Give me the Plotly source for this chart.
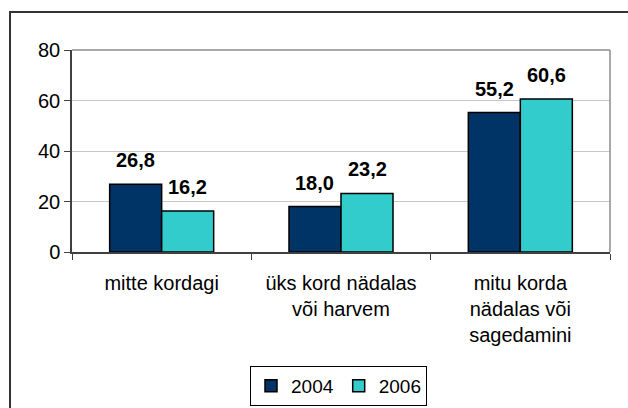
import plotly.graph_objects as go

categories = ["mitte kordagi", "üks kord nädalas<br>või harvem", "mitu korda<br>nädalas või<br>sagedamini"]
series_names = ["2004", "2006"]
values_2004 = [26.8, 18.0, 55.2]
values_2006 = [16.2, 23.2, 60.6]
y_ticks = [0, 20, 40, 60, 80]

colors = ["#003366", "#33CCCC"]
FONT = "Liberation Sans, Arial, sans-serif"

L, R, T, B = 72, 18, 50, 156
W, H = 628, 408
pw, ph = W - L - R, H - T - B
BARGAP = 0.42

fig = go.Figure()
for name, vals, col in zip(series_names, [values_2004, values_2006], colors):
    fig.add_trace(go.Bar(
        x=categories, y=vals, name=name,
        marker=dict(color=col, line=dict(color="black", width=1.5)),
    ))

annotations = []
half = pw / 3 * (1 - BARGAP) / 4
for i, vals in enumerate([values_2004, values_2006]):
    shift = -half if i == 0 else half
    for c, v in zip(categories, vals):
        annotations.append(dict(
            x=c, y=v, xref="x", yref="y", text=f"{v:.1f}".replace(".", ","),
            showarrow=False, xshift=shift, yshift=11, yanchor="bottom",
            font=dict(family=FONT, size=20, color="black", weight="bold"),
        ))

def px_x(p):
    return (p - L) / pw

def px_y(p):
    return (T + ph - p) / ph

shapes = [
    dict(type="rect", xref="paper", yref="paper", x0=px_x(10), x1=px_x(640), y0=px_y(420), y1=px_y(12),
         line=dict(color="#333333", width=2), fillcolor="rgba(0,0,0,0)", layer="below"),
    dict(type="line", xref="paper", yref="paper", x0=0, x1=1, y0=1, y1=1, line=dict(color="#8c8c8c", width=1.5)),
    dict(type="line", xref="paper", yref="paper", x0=1, x1=1, y0=0, y1=1, line=dict(color="#8c8c8c", width=1.5)),
]

fig.update_layout(
    width=W, height=H,
    margin=dict(l=L, r=R, t=T, b=B, autoexpand=False),
    paper_bgcolor="white", plot_bgcolor="white",
    barmode="group", bargap=BARGAP, bargroupgap=0,
    font=dict(family=FONT, color="black", size=20),
    showlegend=True,
    legend=dict(orientation="h", x=px_x(338.5), xanchor="center", y=px_y(406), yanchor="bottom",
                bordercolor="black", borderwidth=1, bgcolor="white",
                font=dict(family=FONT, size=19), itemwidth=30, tracegroupgap=0),
    annotations=annotations,
    shapes=shapes,
    xaxis=dict(showline=True, linecolor="#404040", linewidth=1.5, ticks="outside", ticklen=6,
               tickcolor="#404040", tickson="boundaries", showgrid=False, ticklabelstandoff=12,
               tickfont=dict(family=FONT, size=20), fixedrange=True),
    yaxis=dict(range=[0, 80], tickvals=y_ticks, showline=True, linecolor="#404040", linewidth=1.5,
               ticks="outside", ticklen=6, tickcolor="#404040", showgrid=True, gridcolor="#c8c8c8",
               gridwidth=1, zeroline=False, tickfont=dict(family=FONT, size=20), fixedrange=True),
)

fig.write_html("out.html", config={"displayModeBar": False},
               post_script="document.body.style.margin='0';document.body.style.padding='0';")
